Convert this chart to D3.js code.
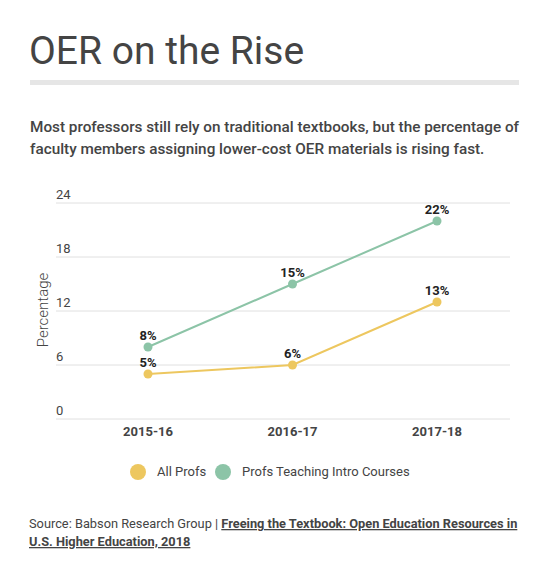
<!DOCTYPE html>
<html>
<head>
<meta charset="utf-8">
<script src="https://cdn.jsdelivr.net/npm/d3@7"></script>
<style>
  body { margin: 0; background: #fff; font-family: Roboto, sans-serif; }
</style>
</head>
<body>
<div id="chart"></div>
<script>
// Chart data
const years = ['2015-16', '2016-17', '2017-18'];
const allProfs = [5, 6, 13];
const introProfs = [8, 15, 22];
const yTicks = [0, 6, 12, 18, 24];
const seriesNames = ['All Profs', 'Profs Teaching Intro Courses'];
const seriesColors = ['#edc75f', '#8cc4a7'];

const width = 550;
const height = 582;

const svg = d3.select('#chart')
    .append('svg')
    .attr('width', width)
    .attr('height', height);

// Header
svg.append('text')
    .attr('x', 29)
    .attr('y', 64)
    .attr('font-size', 39)
    .attr('fill', '#444')
    .text('OER on the Rise');

svg.append('rect')
    .attr('x', 30)
    .attr('y', 80)
    .attr('width', 489)
    .attr('height', 5)
    .attr('fill', '#e6e6e6');

const sub = svg.append('text')
    .attr('font-size', 15.3)
    .attr('font-weight', 500)
    .attr('fill', '#444');
sub.append('tspan').attr('x', 30).attr('y', 132)
    .text('Most professors still rely on traditional textbooks, but the percentage of');
sub.append('tspan').attr('x', 30).attr('y', 154)
    .text('faculty members assigning lower-cost OER materials is rising fast.');

// Scales
const x = d3.scalePoint()
    .domain(years)
    .range([148, 437]);

const y = d3.scaleLinear()
    .domain([0, 24])
    .range([419, 203]);

// Gridlines + y labels
const grid = svg.append('g');
grid.selectAll('line')
    .data(yTicks)
    .enter().append('line')
    .attr('x1', 56)
    .attr('x2', 510)
    .attr('y1', d => y(d))
    .attr('y2', d => y(d))
    .attr('stroke', '#e0e0e0')
    .attr('stroke-width', 1);
grid.selectAll('text')
    .data(yTicks)
    .enter().append('text')
    .attr('x', 56)
    .attr('y', d => y(d) - 4)
    .attr('font-size', 13)
    .attr('fill', '#444')
    .text(d => d);

svg.append('text')
    .attr('transform', 'translate(43,310) rotate(-90)')
    .attr('text-anchor', 'middle')
    .attr('dominant-baseline', 'central')
    .attr('font-size', 15)
    .attr('font-weight', 300)
    .attr('fill', '#444')
    .text('Percentage');

// x labels
svg.append('g').selectAll('text')
    .data(years)
    .enter().append('text')
    .attr('x', d => x(d))
    .attr('y', 436)
    .attr('text-anchor', 'middle')
    .attr('font-size', 13)
    .attr('font-weight', 'bold')
    .attr('fill', '#444')
    .text(d => d);

// Lines
const series = [allProfs, introProfs];
const line = d3.line()
    .x((d, i) => x(years[i]))
    .y(d => y(d));

series.forEach((vals, s) => {
    const g = svg.append('g');
    g.append('path')
        .datum(vals)
        .attr('d', line)
        .attr('fill', 'none')
        .attr('stroke', seriesColors[s])
        .attr('stroke-width', 2);
    g.selectAll('circle')
        .data(vals)
        .enter().append('circle')
        .attr('cx', (d, i) => x(years[i]))
        .attr('cy', d => y(d))
        .attr('r', 4.5)
        .attr('fill', seriesColors[s]);
    g.selectAll('text')
        .data(vals)
        .enter().append('text')
        .attr('x', (d, i) => x(years[i]))
        .attr('y', d => y(d) - 7)
        .attr('text-anchor', 'middle')
        .attr('font-size', 13)
        .attr('font-weight', 'bold')
        .attr('fill', '#222')
        .text(d => d + '%');
});

// Legend
const legendX = [138, 223];
const legend = svg.append('g');
seriesNames.forEach((name, i) => {
    legend.append('circle')
        .attr('cx', legendX[i])
        .attr('cy', 472)
        .attr('r', 8)
        .attr('fill', seriesColors[i]);
    legend.append('text')
        .attr('x', legendX[i] + 19)
        .attr('y', 476)
        .attr('font-size', 13)
        .attr('fill', '#444')
        .text(name);
});

// Source
const src = svg.append('text')
    .attr('font-size', 12.8)
    .attr('fill', '#444');
src.append('tspan').attr('x', 29).attr('y', 528)
    .text('Source: Babson Research Group | ');
src.append('tspan')
    .attr('font-weight', 'bold')
    .attr('text-decoration', 'underline')
    .text('Freeing the Textbook: Open Education Resources in');
src.append('tspan').attr('x', 29).attr('y', 546)
    .attr('font-weight', 'bold')
    .attr('text-decoration', 'underline')
    .text('U.S. Higher Education, 2018');
</script>
</body>
</html>
